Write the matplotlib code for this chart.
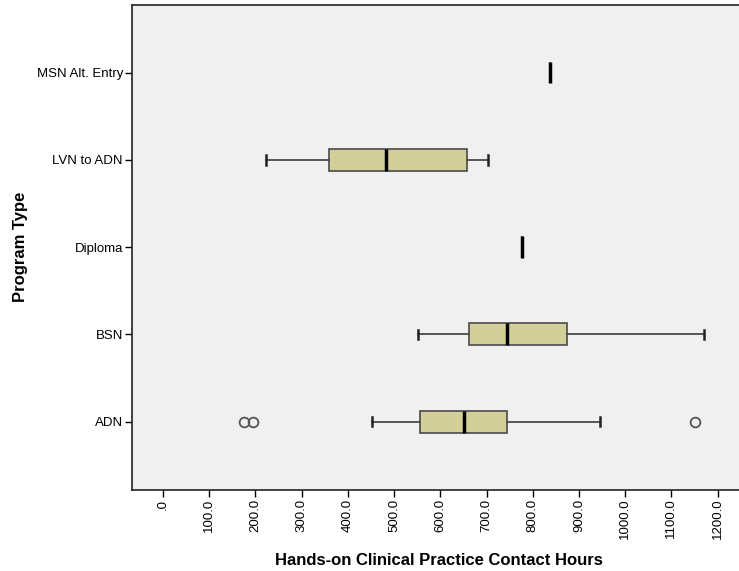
import numpy as np
import matplotlib
matplotlib.use("Agg")
import matplotlib.pyplot as plt

plt.rcParams["font.family"] = ["Liberation Sans", "DejaVu Sans"]

# program types, bottom to top
programs = ["ADN", "BSN", "Diploma", "LVN to ADN", "MSN Alt. Entry"]
whisker_low = [453, 552, 777, 223, 838]
q1 = [556, 663, 777, 360, 838]
median = [652, 744, 777, 482, 838]
q3 = [745, 875, 777, 657, 838]
whisker_high = [946, 1171, 777, 704, 838]
outliers = [[175, 195, 1152], [], [], [], []]

xticks = np.arange(0, 1300, 100)
xticklabels = [".0"] + [f"{v:.1f}" for v in xticks[1:]]

stats = []
for i, name in enumerate(programs):
    stats.append({"label": name, "whislo": whisker_low[i], "q1": q1[i], "med": median[i],
                  "q3": q3[i], "whishi": whisker_high[i], "fliers": outliers[i]})

fig = plt.figure(figsize=(7.39, 5.71), dpi=100)
ax = fig.add_axes([0.1786, 0.1424, 0.83, 0.8497])
ax.set_facecolor("#F0F0F0")

ax.bxp(stats, positions=np.arange(len(programs)), vert=False, widths=0.25,
       patch_artist=True, showfliers=True,
       boxprops=dict(facecolor="#D3CF98", edgecolor="#4a4a4a", linewidth=1.2),
       medianprops=dict(color="black", linewidth=2.5),
       whiskerprops=dict(color="#4a4a4a", linewidth=1.3),
       capprops=dict(color="#222222", linewidth=1.8),
       capwidths=0.11,
       flierprops=dict(marker="o", markerfacecolor="none", markeredgecolor="#555555",
                       markersize=7, markeredgewidth=1.3))

ax.set_xlim(-67, 1260)
ax.set_ylim(-0.78, 4.78)
ax.set_xticks(xticks)
ax.set_xticklabels(xticklabels, rotation=90, fontsize=9.5)
ax.set_yticks(np.arange(len(programs)))
ax.set_yticklabels(programs, fontsize=9.5)
ax.tick_params(direction="out", length=5, width=1, color="black", pad=1.5)
for s in ["left", "bottom", "top"]:
    ax.spines[s].set_color("#222222")
    ax.spines[s].set_linewidth(1.2)
ax.spines["right"].set_visible(False)

ax.set_xlabel("Hands-on Clinical Practice Contact Hours", fontsize=12, fontweight="bold", labelpad=10)
ax.set_ylabel("Program Type", fontsize=12, fontweight="bold", labelpad=6)

plt.savefig("out.png", dpi=100)
plt.close()
